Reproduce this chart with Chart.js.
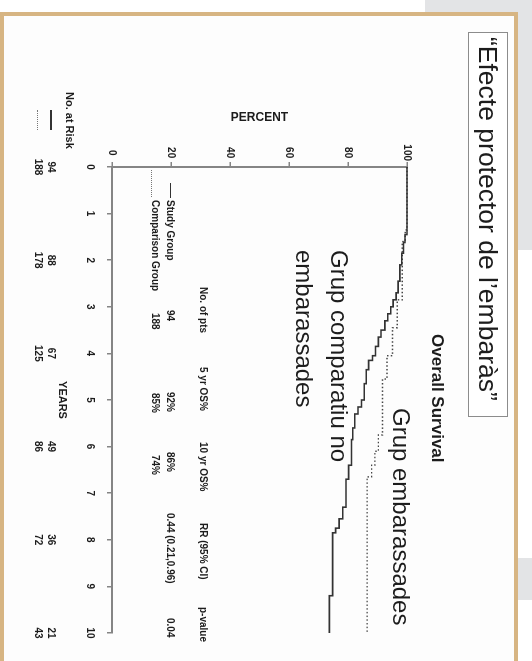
<!DOCTYPE html>
<html>
<head>
<meta charset="utf-8">
<script src="https://cdn.jsdelivr.net/npm/chart.js@4.4.0/dist/chart.umd.min.js"></script>
<style>
  html, body { margin: 0; padding: 0; }
  body { width: 532px; height: 661px; position: relative; overflow: hidden; background: #fff;
         font-family: "Liberation Sans", Arial, sans-serif; }
  .gray { position: absolute; background: #e3e4e6; }
  .frame { position: absolute; left: 0; top: 12px; width: 510px; height: 700px; box-sizing: content-box;
           border: 4px solid #d7b583; border-bottom: none; background: #fdfdfd; }
  /* the slide is a landscape chart turned a quarter turn clockwise */
  #page { position: absolute; left: 0; top: 0; width: 661px; height: 532px;
          transform-origin: 0 0; transform: translateX(532px) rotate(90deg); }
  #page canvas { position: absolute; left: 0; top: 0; }
  .t { position: absolute; white-space: nowrap; color: #1c1c1c; line-height: 1; }
  .b { font-weight: bold; }
  .small { font-size: 10px; font-weight: bold; }
  .box { position: absolute; box-sizing: border-box; border: 1.5px solid #8c8c8c; background: #fff; }
</style>
</head>
<body>
<div class="gray" style="left:425px;top:0;width:107px;height:250px;"></div>
<div class="gray" style="left:518px;top:558px;width:14px;height:42px;"></div>
<div class="frame"></div>

<div id="page">
  <canvas id="km" width="661" height="532"></canvas>

  <div class="box" style="left:32px;top:24px;width:385px;height:40px;"></div>
  <div class="t" style="left:37px;top:29px;font-size:26.5px;line-height:30px;">“Efecte protector de l’embaràs”</div>

  <div class="t b" style="left:334px;top:86px;font-size:17px;">Overall Survival</div>
  <div class="t" style="left:408px;top:119px;font-size:24px;">Grup embarassades</div>
  <div class="t" style="left:250px;top:175px;font-size:24px;line-height:35px;">Grup comparatiu no<br>embarassades</div>

  <!-- table inside the plot -->
  <div class="t small" style="left:287px;top:324px;">No. of pts</div>
  <div class="t small" style="left:367px;top:324px;">5 yr OS%</div>
  <div class="t small" style="left:442px;top:324px;">10 yr OS%</div>
  <div class="t small" style="left:523px;top:324px;">RR (95% CI)</div>
  <div class="t small" style="left:607px;top:324px;">p-value</div>

  <div style="position:absolute;left:183px;top:361px;width:15px;border-top:1.5px solid #333;"></div>
  <div class="t small" style="left:200px;top:357px;">Study Group</div>
  <div class="t small" style="left:310px;top:357px;">94</div>
  <div class="t small" style="left:392px;top:357px;">92%</div>
  <div class="t small" style="left:452px;top:357px;">86%</div>
  <div class="t small" style="left:513px;top:357px;">0.44 (0.21,0.96)</div>
  <div class="t small" style="left:618px;top:357px;">0.04</div>

  <div style="position:absolute;left:170px;top:380px;width:27px;border-top:1px dotted #777;"></div>
  <div class="t small" style="left:200px;top:372px;">Comparison Group</div>
  <div class="t small" style="left:313px;top:372px;">188</div>
  <div class="t small" style="left:393px;top:372px;">85%</div>
  <div class="t small" style="left:455px;top:372px;">74%</div>

  <!-- number at risk -->
  <div class="t b" style="left:92px;top:457px;font-size:11px;">No. at Risk</div>
  <div style="position:absolute;left:110px;top:480px;width:20px;border-top:2px solid #333;"></div>
  <div style="position:absolute;left:110px;top:494px;width:20px;border-top:1px dotted #777;"></div>
</div>

<script>
// Kaplan-Meier steps: years and survival percent after each drop
const comparisonYears = [0, 1.45, 1.62, 1.85, 2.1, 2.45, 2.7, 2.85, 3.0, 3.15, 3.3, 3.5, 3.65, 3.85, 4.05, 4.15, 4.35,
                         4.65, 5.0, 5.15, 5.3, 5.6, 5.85, 6.4, 6.7, 7.3, 7.55, 7.75, 7.85, 9.2, 10];
const comparisonPct   = [100, 99.3, 98.8, 98.2, 97.6, 97.0, 96.3, 95.3, 94.5, 93.5, 92.5, 91.2, 90.3, 89.3, 88.3, 87.0, 86.2,
                         85.5, 84.6, 83.4, 82.3, 81.6, 81.2, 80.2, 79.3, 78.2, 77.0, 75.8, 74.8, 73.7, 73.7];

const studyYears = [0, 1.35, 1.6, 2.85, 3.45, 4.05, 4.55, 5.75, 6.1, 6.4, 6.65, 10];
const studyPct   = [100, 99.4, 98.4, 96.7, 95.1, 93.2, 91.7, 90.3, 89.1, 88.0, 86.5, 86.5];

const riskYears = [0, 2, 4, 6, 8, 10];
const riskStudy = [94, 88, 67, 49, 36, 21];
const riskComparison = [188, 178, 125, 86, 72, 43];

const axisGray = '#858585';
const tickFont = { family: 'Liberation Sans', size: 10, weight: 'bold' };

const riskPlugin = {
    id: 'riskNumbers',
    afterDraw(chart) {
        const ctx = chart.ctx;
        const xs = chart.scales.x;
        ctx.save();
        ctx.font = 'bold 10px "Liberation Sans"';
        ctx.fillStyle = '#1c1c1c';
        ctx.textAlign = 'center';
        ctx.textBaseline = 'middle';
        riskYears.forEach((yr, i) => {
            const px = xs.getPixelForValue(yr);
            ctx.fillText(String(riskStudy[i]), px, 481);
            ctx.fillText(String(riskComparison[i]), px, 494);
        });
        ctx.restore();
    }
};

new Chart(document.getElementById('km'), {
    type: 'line',
    data: {
        datasets: [{
            label: 'Comparison',
            data: comparisonYears.map((t, i) => ({ x: t, y: comparisonPct[i] })),
            borderColor: '#333',
            borderWidth: 1.6,
            stepped: true,
            pointRadius: 0,
            fill: false,
            clip: false
        }, {
            label: 'Study',
            data: studyYears.map((t, i) => ({ x: t, y: studyPct[i] })),
            borderColor: '#444',
            borderWidth: 1.4,
            borderDash: [1.5, 2.2],
            stepped: true,
            pointRadius: 0,
            fill: false,
            clip: false
        }]
    },
    options: {
        responsive: false,
        animation: false,
        layout: { padding: { left: 100, right: 28, top: 125, bottom: 50 } },
        plugins: { legend: { display: false }, tooltip: { enabled: false } },
        scales: {
            x: {
                type: 'linear', min: 0, max: 10,
                ticks: { stepSize: 1, autoSkip: false, maxRotation: 0, padding: 11, color: '#1c1c1c', font: tickFont },
                grid: { drawOnChartArea: false, tickLength: 5, color: axisGray, lineWidth: 1.5 },
                border: { color: axisGray, width: 2 },
                title: { display: true, text: 'YEARS', color: '#1c1c1c', padding: { top: 0, bottom: 5 },
                         font: { family: 'Liberation Sans', size: 11, weight: 'bold' } },
                afterFit: s => { s.height = 62; }
            },
            y: {
                type: 'linear', min: 0, max: 100,
                ticks: { stepSize: 20, crossAlign: 'center', padding: 1, color: '#1c1c1c', font: tickFont },
                grid: { drawOnChartArea: false, tickLength: 5, color: axisGray, lineWidth: 1.5 },
                border: { color: axisGray, width: 2 },
                title: { display: true, text: 'PERCENT', color: '#1c1c1c', padding: { top: 10, bottom: 0 },
                         font: { family: 'Liberation Sans', size: 12, weight: 'bold' } },
                afterFit: s => { s.width = 67; }
            }
        }
    },
    plugins: [riskPlugin]
});
</script>
</body>
</html>
